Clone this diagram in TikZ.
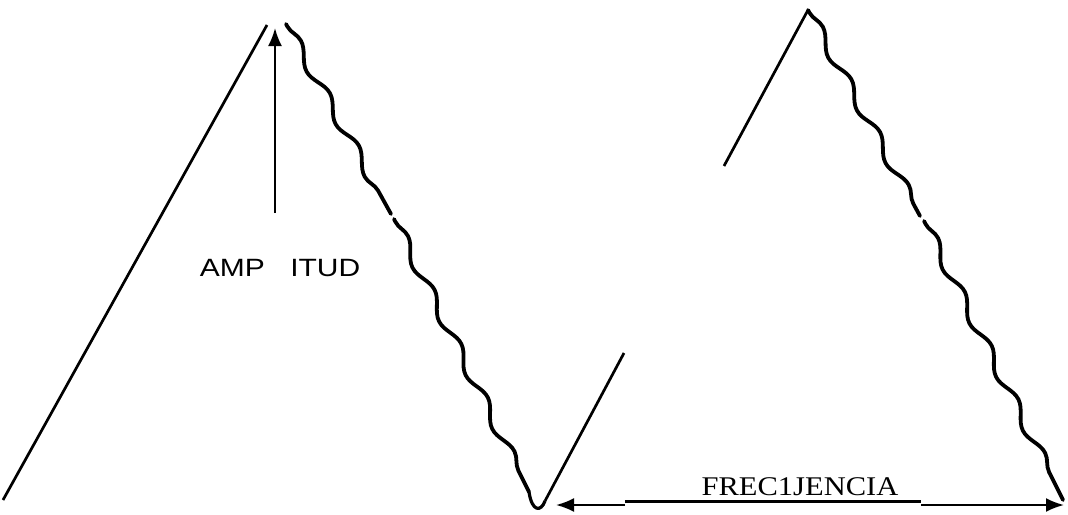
\documentclass[tikz,border=0pt]{standalone}
\usepackage{fontspec}
\setmainfont{Liberation Serif}
\newfontfamily\sansf{Liberation Sans}
\usetikzlibrary{decorations.pathmorphing,arrows.meta}
\begin{document}
\begin{tikzpicture}[x=1pt,y=-1pt,
  wavy/.style={line width=3.8pt, line cap=round, decorate,
    decoration={snake, segment length=60pt, amplitude=5pt, pre length=3pt, post length=3pt}},
  rise/.style={line width=2.7pt},
  arr/.style={line width=2.2pt},
  tip/.style={-{Latex[length=18pt,width=14pt]}},
  lbl/.style={inner sep=0pt, anchor=base}]
\useasboundingbox (0,0) rectangle (1068,514);
% key points
\coordinate (a0) at (3,500);
\coordinate (a1) at (267,25);
\coordinate (w1s) at (286,24);
\coordinate (w1g) at (391,214);
\coordinate (w1h) at (394,219);
\coordinate (w1e) at (529,492);
\coordinate (v0) at (545,501);
\coordinate (b1) at (624,353);
\coordinate (b2) at (724,166);
\coordinate (p2) at (808,10);
\coordinate (w2g) at (920,216);
\coordinate (w2h) at (924,221);
\coordinate (w2e) at (1063,500);
% left rising line
\draw[rise] (a0) -- (a1);
% left wavy descent
\draw[wavy] (w1s) -- (w1g);
\draw[wavy] (w1h) -- (w1e);
% valley
\draw[line width=3.2pt] (w1e) .. controls (532,512) and (541,512) .. (v0);
% second rising line (with gap)
\draw[rise] (v0) -- (b1);
\draw[rise] (b2) -- (p2);
% right wavy descent
\draw[wavy] (p2) -- (w2g);
\draw[wavy] (w2h) -- (w2e);
% amplitude arrow
\coordinate (am0) at (275,213);
\coordinate (am1) at (275,28);
\draw[arr,tip] (am0) -- (am1);
\node[lbl] (amp) at (280,276) {\sansf\fontsize{25}{25}\selectfont\scalebox{1.2}[1]{AMP\hspace{0.85em}ITUD}};
% frequency arrow
\coordinate (f0) at (556,505);
\coordinate (f1) at (625,505);
\coordinate (f2) at (625,501);
\coordinate (f3) at (921,501);
\coordinate (f4) at (921,505);
\coordinate (f5) at (1064,505);
\draw[arr,tip] (f1) -- (f0);
\draw[line width=3pt] (f2) -- (f3);
\draw[arr,tip] (f4) -- (f5);
\node[lbl] (frec) at (800,495) {\fontsize{27}{27}\selectfont\scalebox{1.13}[1]{FREC1JENCIA}};
\end{tikzpicture}
\end{document}
